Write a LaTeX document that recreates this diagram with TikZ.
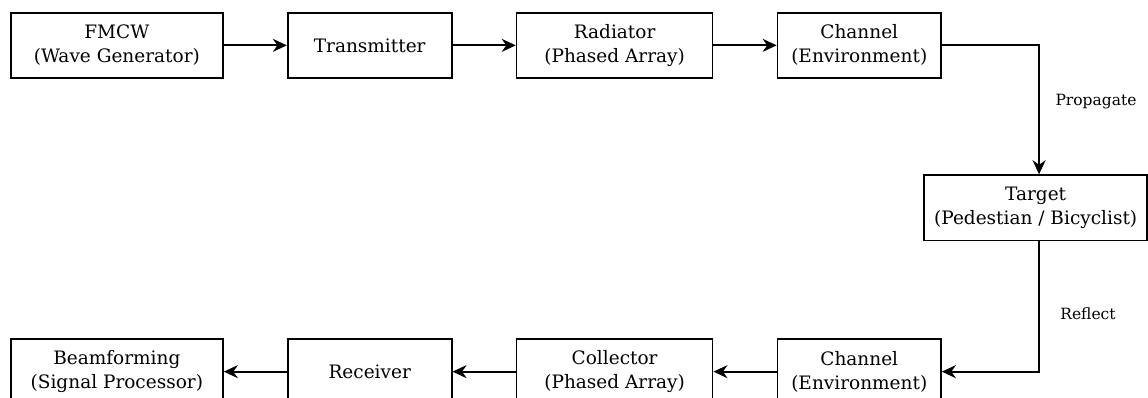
\documentclass[tikz,border=0pt]{standalone}
\usepackage{fontspec}
\setmainfont{DejaVu Serif}
\usetikzlibrary{arrows.meta}
\begin{document}
\begin{tikzpicture}[x=1pt,y=-1pt,
  blockbox/.style={draw=black, line width=1.7pt, minimum height=65.3pt, align=center,
    inner sep=0pt, font=\fontsize{18.5}{24}\selectfont},
  flow/.style={line width=1.7pt, -{Stealth[length=14pt,width=13pt,inset=4.5pt]}},
  edgelabel/.style={font=\fontsize{15.5}{17}\selectfont}]
\useasboundingbox (0,0) rectangle (1148,398);
\clip (0,0) rectangle (1148,398);

% transmit chain
\node[blockbox, minimum width=212.3pt] (gen) at (116.85,45.35) {FMCW\\(Wave Generator)};
\node[blockbox, minimum width=164pt]   (tx)  at (369.7,45.35)  {Transmitter};
\node[blockbox, minimum width=196pt]   (rad) at (614.6,45.35)  {Radiator\\(Phased Array)};
\node[blockbox, minimum width=163.5pt] (chA) at (859.25,45.35) {Channel\\(Environment)};

% target
\node[blockbox, minimum width=222.7pt] (tgt) at (1035.65,207.8) {Target\\(Pedestian / Bicyclist)};

% receive chain
\node[blockbox, minimum width=163.5pt] (chB) at (859.25,371.65) {Channel\\(Environment)};
\node[blockbox, minimum width=196pt]   (col) at (614.6,371.65)  {Collector\\(Phased Array)};
\node[blockbox, minimum width=164pt]   (rx)  at (369.7,371.65)  {Receiver};
\node[blockbox, minimum width=212.3pt] (bf)  at (116.85,371.65) {Beamforming\\(Signal Processor)};

% connectors
\draw[flow] (gen) -- (tx);
\draw[flow] (tx) -- (rad);
\draw[flow] (rad) -- (chA);
\draw[flow] (chA.east) -| ([xshift=3.4pt]tgt.north);
\draw[flow] ([xshift=3.4pt]tgt.south) |- (chB.east);
\draw[flow] (chB) -- (col);
\draw[flow] (col) -- (rx);
\draw[flow] (rx) -- (bf);

% edge labels
\node[edgelabel] (lprop) at (1096,102) {Propagate};
\node[edgelabel] (lrefl) at (1088,314) {Reflect};
\end{tikzpicture}
\end{document}
